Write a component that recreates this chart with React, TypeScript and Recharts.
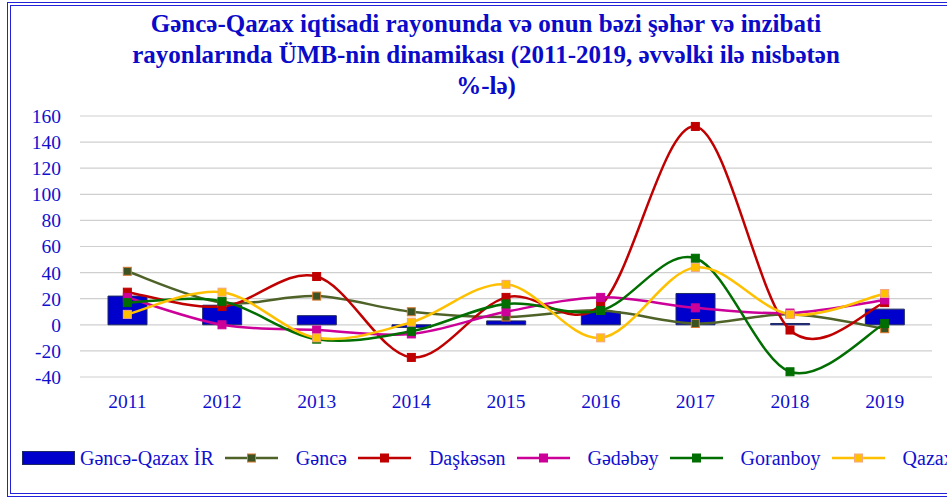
import React from "react";
import { ComposedChart, Bar, Line, XAxis, YAxis, CartesianGrid } from "recharts";

const YEARS = ["2011", "2012", "2013", "2014", "2015", "2016", "2017", "2018", "2019"];
const GQ_IR = [22, 15, 7, -2, 3, 10, 24, 1, 12];
const GANCA = [41, 17, 22, 10, 6, 11, 1, 8, -3];
const DASKASAN = [25, 14, 37, -25, 21, 15, 152, -4, 17];
const GADABAY = [21, 0, -4, -7, 10, 21, 13, 9, 19];
const GORANBOY = [17, 18, -11, -5, 16, 11, 51, -36, 1];
const QAZAX = [8, 25, -10, 2, 31, -10, 44, 8, 24];
const Y_TICKS = [-40, -20, 0, 20, 40, 60, 80, 100, 120, 140, 160];

const BLUE_TEXT = "#1010D0";
const FONT = "Liberation Serif, DejaVu Serif, Noto Serif, serif";

const LINES = [
  { key: "ganca", name: "Gəncə", values: GANCA, color: "#4F6228", markerFill: "#3B5323", markerStroke: "#D9782D" },
  { key: "daskasan", name: "Daşkəsən", values: DASKASAN, color: "#C00000", markerFill: "#C00000", markerStroke: "#C00000" },
  { key: "gadabay", name: "Gədəbəy", values: GADABAY, color: "#CC0099", markerFill: "#CC0099", markerStroke: "#CC0099" },
  { key: "goranboy", name: "Goranboy", values: GORANBOY, color: "#006E00", markerFill: "#006E00", markerStroke: "#006E00" },
  { key: "qazax", name: "Qazax", values: QAZAX, color: "#FFC000", markerFill: "#FFC000", markerStroke: "#F4A582" },
];

const data = YEARS.map((year, i) => {
  const row: Record<string, any> = { year, ir: GQ_IR[i] };
  LINES.forEach((l) => (row[l.key] = l.values[i]));
  return row;
});

// Excel-like smoothed line (Catmull-Rom style bezier)
function excelSmooth(context: any) {
  let pts: number[][] = [];
  return {
    areaStart() {},
    areaEnd() {},
    lineStart() {
      pts = [];
    },
    point(x: number, y: number) {
      pts.push([+x, +y]);
    },
    lineEnd() {
      const n = pts.length;
      if (!n) return;
      context.moveTo(pts[0][0], pts[0][1]);
      for (let i = 0; i < n - 1; i++) {
        const p0 = pts[Math.max(i - 1, 0)];
        const p1 = pts[i];
        const p2 = pts[i + 1];
        const p3 = pts[Math.min(i + 2, n - 1)];
        context.bezierCurveTo(
          p1[0] + (p2[0] - p0[0]) / 6,
          p1[1] + (p2[1] - p0[1]) / 6,
          p2[0] - (p3[0] - p1[0]) / 6,
          p2[1] - (p3[1] - p1[1]) / 6,
          p2[0],
          p2[1]
        );
      }
    },
  };
}

const squareDot = (fill: string, stroke: string) => (props: any) => {
  const { cx, cy, index } = props;
  if (cx == null || cy == null) return <g key={index} />;
  return <rect key={index} x={cx - 4} y={cy - 4} width={8} height={8} fill={fill} stroke={stroke} strokeWidth={1} />;
};

function LegendRow() {
  const textStyle: React.CSSProperties = { fontSize: 20, color: BLUE_TEXT, whiteSpace: "nowrap", lineHeight: "20px" };
  return (
    <div style={{ position: "absolute", left: 22, top: 448, display: "flex", alignItems: "center", fontFamily: FONT }}>
      <div style={{ width: 51, height: 12, background: "#0000CC", border: "1px solid #1F2A60" }} />
      <span style={{ ...textStyle, marginLeft: 5 }}>Gəncə-Qazax İR</span>
      {LINES.map((l) => (
        <React.Fragment key={l.key}>
          <svg width={53} height={12} style={{ marginLeft: 11 }}>
            <line x1={0} y1={6} x2={53} y2={6} stroke={l.color} strokeWidth={2.5} />
            <rect x={22.5} y={2} width={8} height={8} fill={l.markerFill} stroke={l.markerStroke} strokeWidth={1} />
          </svg>
          <span style={{ ...textStyle, marginLeft: 18 }}>{l.name}</span>
        </React.Fragment>
      ))}
    </div>
  );
}

export default function App() {
  return (
    <div style={{ position: "fixed", left: 0, top: 0, width: 947, height: 498, overflow: "hidden", background: "#fff", fontFamily: FONT }}>
      <div
        style={{
          position: "absolute",
          left: 7,
          top: 2,
          width: 1000,
          height: 495,
          boxSizing: "border-box",
          border: "4px double #2222D8",
        }}
      />
      <div
        style={{
          position: "absolute",
          left: 0,
          top: 8,
          width: 972,
          textAlign: "center",
          fontWeight: "bold",
          fontSize: 25,
          lineHeight: "31px",
          color: "#0A0AC8",
        }}
      >
        Gəncə-Qazax iqtisadi rayonunda və onun bəzi şəhər və inzibati
        <br />
        rayonlarında ÜMB-nin dinamikası (2011-2019, əvvəlki ilə nisbətən
        <br />
        %-lə)
      </div>
      <div style={{ position: "absolute", left: 0, top: 0 }}>
        <ComposedChart
          width={947}
          height={430}
          data={data}
          margin={{ top: 116, right: 15, bottom: 23, left: 18 }}
        >
          <CartesianGrid vertical={false} stroke="#CFCFCF" strokeWidth={1.2} />
          <XAxis
            dataKey="year"
            height={30}
            axisLine={false}
            tickLine={false}
            tickSize={0}
            tickMargin={17}
            tick={{ fill: BLUE_TEXT, fontSize: 19.5, fontFamily: FONT }}
          />
          <YAxis
            width={62}
            domain={[-40, 160]}
            ticks={Y_TICKS}
            interval={0}
            axisLine={false}
            tickLine={false}
            tickSize={0}
            tickMargin={19}
            tick={{ fill: BLUE_TEXT, fontSize: 19.5, fontFamily: FONT }}
          />
          <Bar dataKey="ir" name="Gəncə-Qazax İR" barSize={39} fill="#0000CC" stroke="#1F2A60" strokeWidth={1} isAnimationActive={false} />
          {LINES.map((l) => (
            <Line
              key={l.key}
              dataKey={l.key}
              name={l.name}
              type={excelSmooth as any}
              stroke={l.color}
              strokeWidth={2.5}
              dot={squareDot(l.markerFill, l.markerStroke)}
              activeDot={false}
              isAnimationActive={false}
            />
          ))}
        </ComposedChart>
      </div>
      <LegendRow />
    </div>
  );
}
